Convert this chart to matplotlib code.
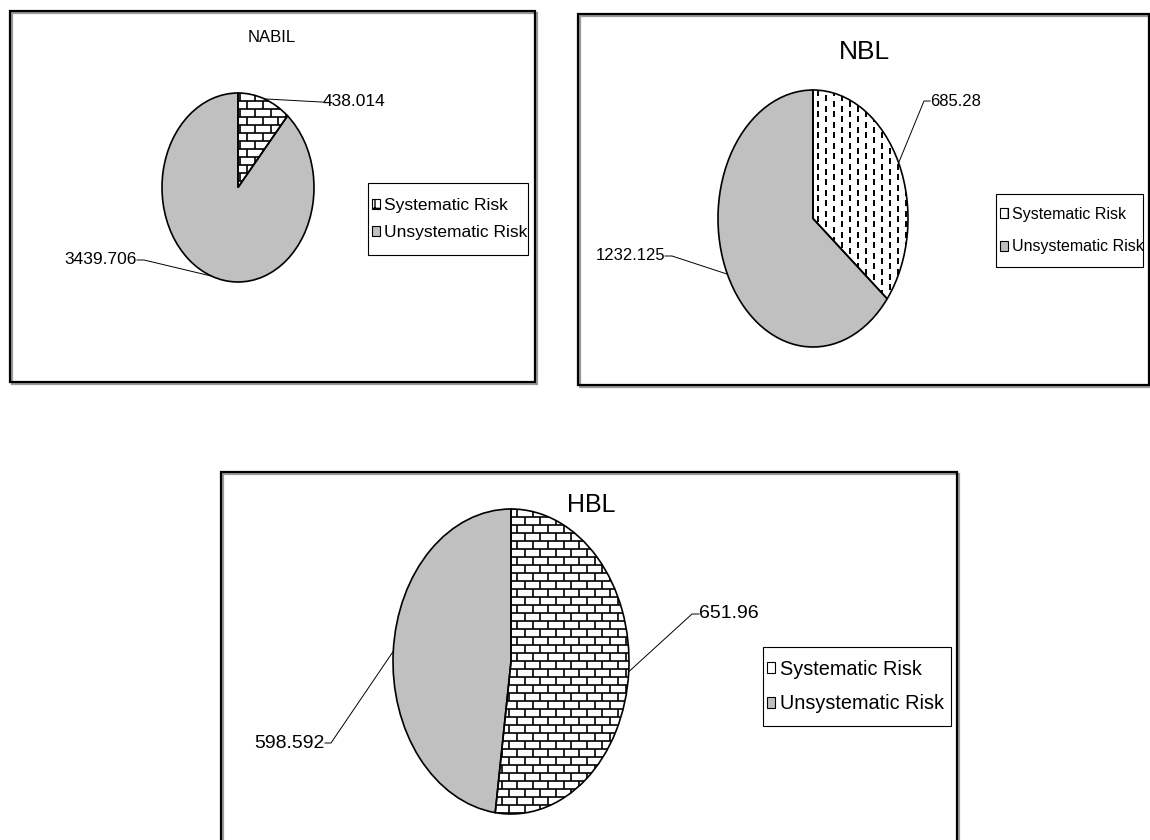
import numpy as np
import matplotlib
matplotlib.use('Agg')
import matplotlib.pyplot as plt
import matplotlib.patches as mpatches
from matplotlib.collections import LineCollection
from matplotlib.lines import Line2D

banks = ['NABIL', 'NBL', 'HBL']
systematic = [438.014, 685.28, 651.96]
unsystematic = [3439.706, 1232.125, 598.592]
risk_labels = ['Systematic Risk', 'Unsystematic Risk']

W, H = 1150, 840
plt.rcParams['font.family'] = ['Liberation Sans', 'DejaVu Sans']

# pixel layout of each panel: frame box, pie ellipse box, title, legend box, value labels
layout = {
    'NABIL': dict(frame=(10, 11, 535, 382), pie=(162, 93, 314, 282),
                  title=(272, 37, 12), legend_box=(368, 183, 528, 255),
                  legend_size=12.5, legend_spacing=0.7,
                  label_size=12.5, labels=[(323, 102, 'left', 2), (137, 260, 'right', 7)],
                  pattern='brick', hatch='+'),
    'NBL': dict(frame=(578, 14, 1149, 385), pie=(718, 90, 908, 347),
                title=(864, 52, 19), legend_box=(996, 194, 1143, 267),
                legend_size=11.5, legend_spacing=1.1,
                label_size=12, labels=[(930, 101, 'left', 6), (665, 256, 'right', 7)],
                pattern='dash', hatch='|'),
    'HBL': dict(frame=(221, 472, 957, 846), pie=(393, 509, 629, 814),
                title=(591, 505, 18), legend_box=(763, 647, 951, 726),
                legend_size=14.3, legend_spacing=0.8,
                label_size=14, labels=[(699, 614, 'left', 7), (325, 743, 'right', 6)],
                pattern='brick', hatch='-'),
}

fig = plt.figure(figsize=(W / 100, H / 100), dpi=100)
to_fig = fig.transFigure.inverted()


def fx(x):
    return x / W


def fy(y):
    return 1 - y / H


def add_box(x0, y0, x1, y1, lw, shadow=False):
    if shadow:
        fig.add_artist(mpatches.Rectangle((fx(x0 + 2), fy(y1 + 2)), (x1 - x0) / W,
                                          (y1 - y0) / H, transform=fig.transFigure,
                                          fill=False, edgecolor='#9a9a9a', lw=lw))
    fig.add_artist(mpatches.Rectangle((fx(x0), fy(y1)), (x1 - x0) / W, (y1 - y0) / H,
                                      transform=fig.transFigure, facecolor='white',
                                      fill=not shadow, edgecolor='black', lw=lw))


def brick_segments(w_px, h_px, row_h=8.0, brick_w=15.5):
    dy = 2 * row_h / h_px
    dx = 2 * brick_w / w_px
    segs = []
    for k, y in enumerate(np.arange(1, -1 - dy, -dy)):
        segs.append([(-1.1, y), (1.1, y)])
        off = 0.5 * dx * (k % 2)
        for x in np.arange(-1 - dx + off, 1 + dx, dx):
            segs.append([(x, y), (x, y - dy)])
    return segs


def dash_segments(w_px, h_px, col_w=8.0, dash=6.0, gap=4.5):
    dx = 2 * col_w / w_px
    d = 2 * dash / h_px
    period = 2 * (dash + gap) / h_px
    segs = []
    for j, x in enumerate(np.arange(-1 + dx / 2, 1, dx)):
        off = 0.5 * period * (j % 2)
        for y in np.arange(1 + off, -1 - period, -period):
            segs.append([(x, y), (x, y - d)])
    return segs


for name, sys_v, unsys_v in zip(banks, systematic, unsystematic):
    cfg = layout[name]

    add_box(*cfg['frame'], lw=1.6, shadow=True)

    tx, ty, ts = cfg['title']
    fig.text(fx(tx), fy(ty), name, ha='center', va='center', fontsize=ts)

    # pie stretched into an ellipse by the axes box
    px0, py0, px1, py1 = cfg['pie']
    w_px, h_px = px1 - px0, py1 - py0
    ax = fig.add_axes([fx(px0), fy(py1), w_px / W, h_px / H])
    wedges, _ = ax.pie([sys_v, unsys_v], startangle=90, counterclock=False,
                       colors=['white', '#c0c0c0'],
                       wedgeprops=dict(edgecolor='none', linewidth=0))
    ax.set_aspect('auto')
    ax.set_xlim(-1, 1)
    ax.set_ylim(-1, 1)
    ax.axis('off')

    sys_wedge = wedges[0]
    if cfg['pattern'] == 'brick':
        lc = LineCollection(brick_segments(w_px, h_px), colors='black',
                            linewidths=1.2, zorder=2)
    else:
        lc = LineCollection(dash_segments(w_px, h_px), colors='black',
                            linewidths=1.4, zorder=2)
    ax.add_collection(lc)
    lc.set_clip_path(sys_wedge)

    for wdg in wedges:
        ax.add_patch(mpatches.PathPatch(wdg.get_path(), transform=ax.transData,
                                        fill=False, edgecolor='black', lw=1.2,
                                        zorder=3, clip_on=False))

    # value labels with leader lines from the wedge mid-angle
    for wdg, val, (lx, ly, ha, gap) in zip(wedges, [sys_v, unsys_v], cfg['labels']):
        mid = np.deg2rad((wdg.theta1 + wdg.theta2) / 2)
        edge = to_fig.transform(ax.transData.transform((np.cos(mid), np.sin(mid))))
        elbow_x = lx - gap if ha == 'left' else lx + gap
        fig.add_artist(Line2D([edge[0], fx(elbow_x), fx(lx)], [edge[1], fy(ly), fy(ly)],
                              transform=fig.transFigure, color='black', lw=0.7))
        fig.text(fx(lx), fy(ly), str(val), ha=ha, va='center',
                 fontsize=cfg['label_size'])

    # legend drawn inside its own fixed box
    bx0, by0, bx1, by1 = cfg['legend_box']
    add_box(bx0, by0, bx1, by1, lw=0.8)
    fs_px = cfg['legend_size'] * 100 / 72
    handles = [mpatches.Patch(facecolor='white', edgecolor='black', lw=0.8,
                              hatch=cfg['hatch']),
               mpatches.Patch(facecolor='#c0c0c0', edgecolor='black', lw=0.8)]
    leg = fig.legend(handles, risk_labels, loc='center left',
                     bbox_to_anchor=(fx(bx0 + 4), fy((by0 + by1) / 2)),
                     bbox_transform=fig.transFigure, borderaxespad=0, borderpad=0,
                     fontsize=cfg['legend_size'], frameon=False,
                     handlelength=8 / fs_px, handleheight=9 / fs_px,
                     handletextpad=0.25, labelspacing=cfg['legend_spacing'])
    leg.set_zorder(5)

fig.savefig('out.png', dpi=100, facecolor='white')
